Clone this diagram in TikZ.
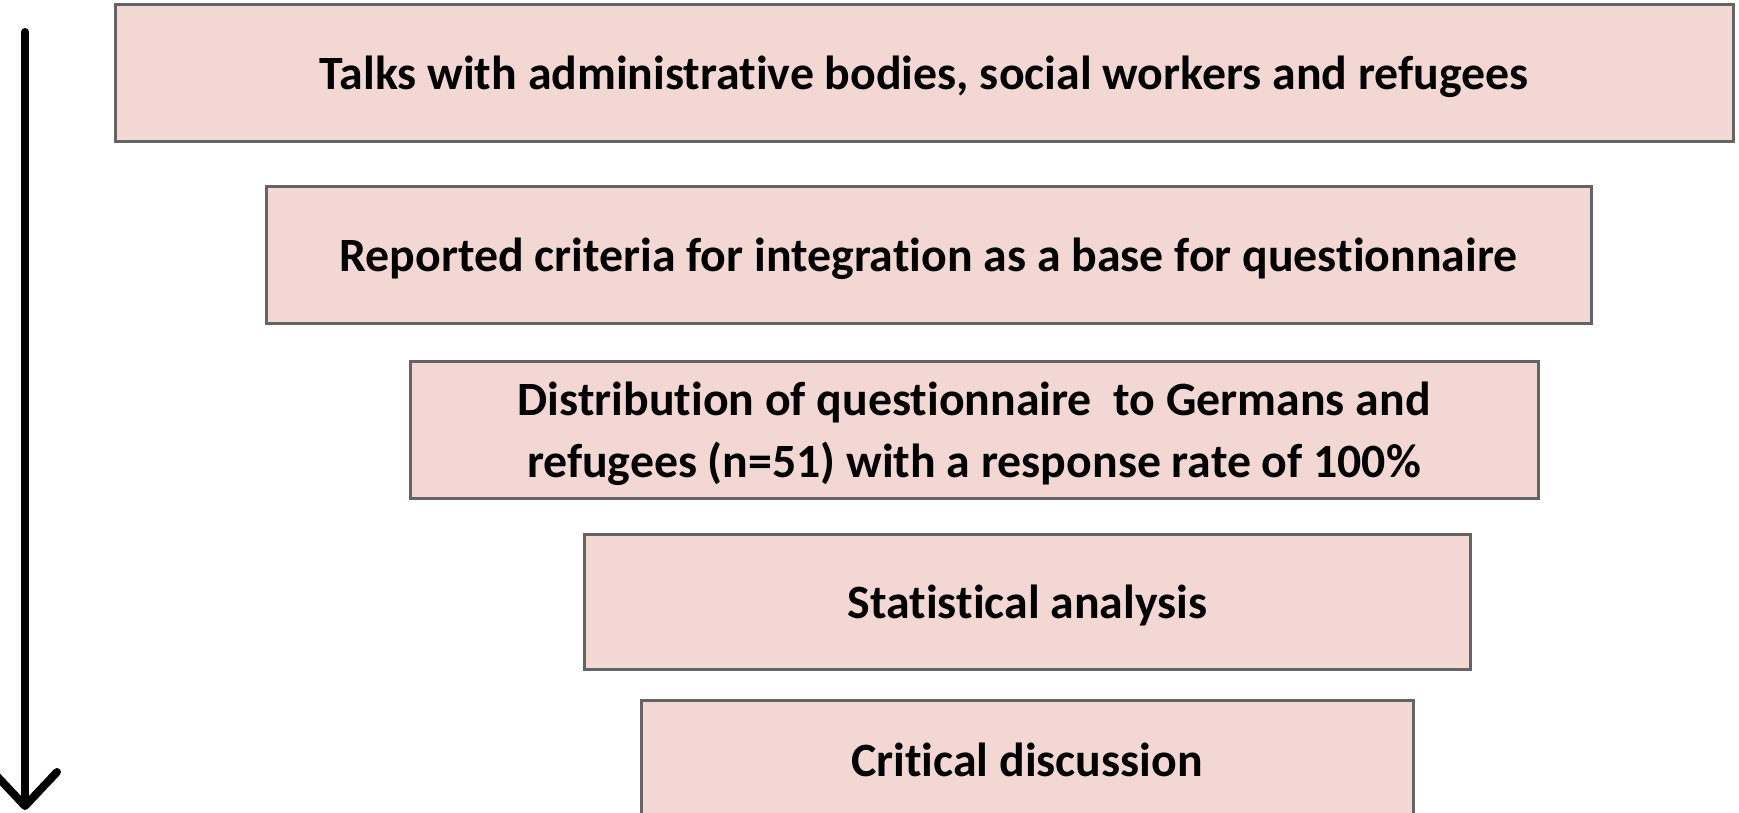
\documentclass[tikz,border=0pt]{standalone}
\usepackage{fontspec}
\setmainfont{Carlito}[Ligatures={NoCommon}]
\usetikzlibrary{arrows.meta}
\definecolor{boxfill}{RGB}{242,215,211}
\definecolor{boxline}{RGB}{100,100,100}
\tikzset{
  stage/.style={draw=boxline, line width=1.5pt, fill=boxfill, inner sep=0pt,
    align=center, text depth=0pt, font=\fontsize{23.9}{31}\selectfont\bfseries},
}
\begin{document}
\begin{tikzpicture}[x=0.5pt,y=-0.5pt]
\useasboundingbox (0,0) rectangle (1739,813);
\clip (0,0) rectangle (1739,813);
\node[stage, minimum width=809pt, minimum height=68pt] (b1) at (924,73)
  {Talks with administrative bodies, social workers and refugees};
\node[stage, minimum width=662.5pt, minimum height=68.5pt] (b2) at (928.5,254.5)
  {Reported criteria for integration as a base for questionnaire};
\node[stage, minimum width=564pt, minimum height=68.5pt] (b3) at (974,429.5)
  {Distribution of questionnaire\ \ to Germans and\\refugees (n=51) with a response rate of 100\%};
\node[stage, minimum width=443pt, minimum height=67.5pt] (b4) at (1027.5,602)
  {Statistical analysis};
\node[stage, text depth=, minimum width=386pt, minimum height=60pt] (b5) at (1027,760)
  {Critical discussion};
\coordinate (a0) at (25,32);
\coordinate (a1) at (25,810);
\draw[line width=4pt, line cap=round,
  -{Straight Barb[length=17pt, width=32pt, line cap=round, line join=round]}] (a0) -- (a1);
\end{tikzpicture}
\end{document}
